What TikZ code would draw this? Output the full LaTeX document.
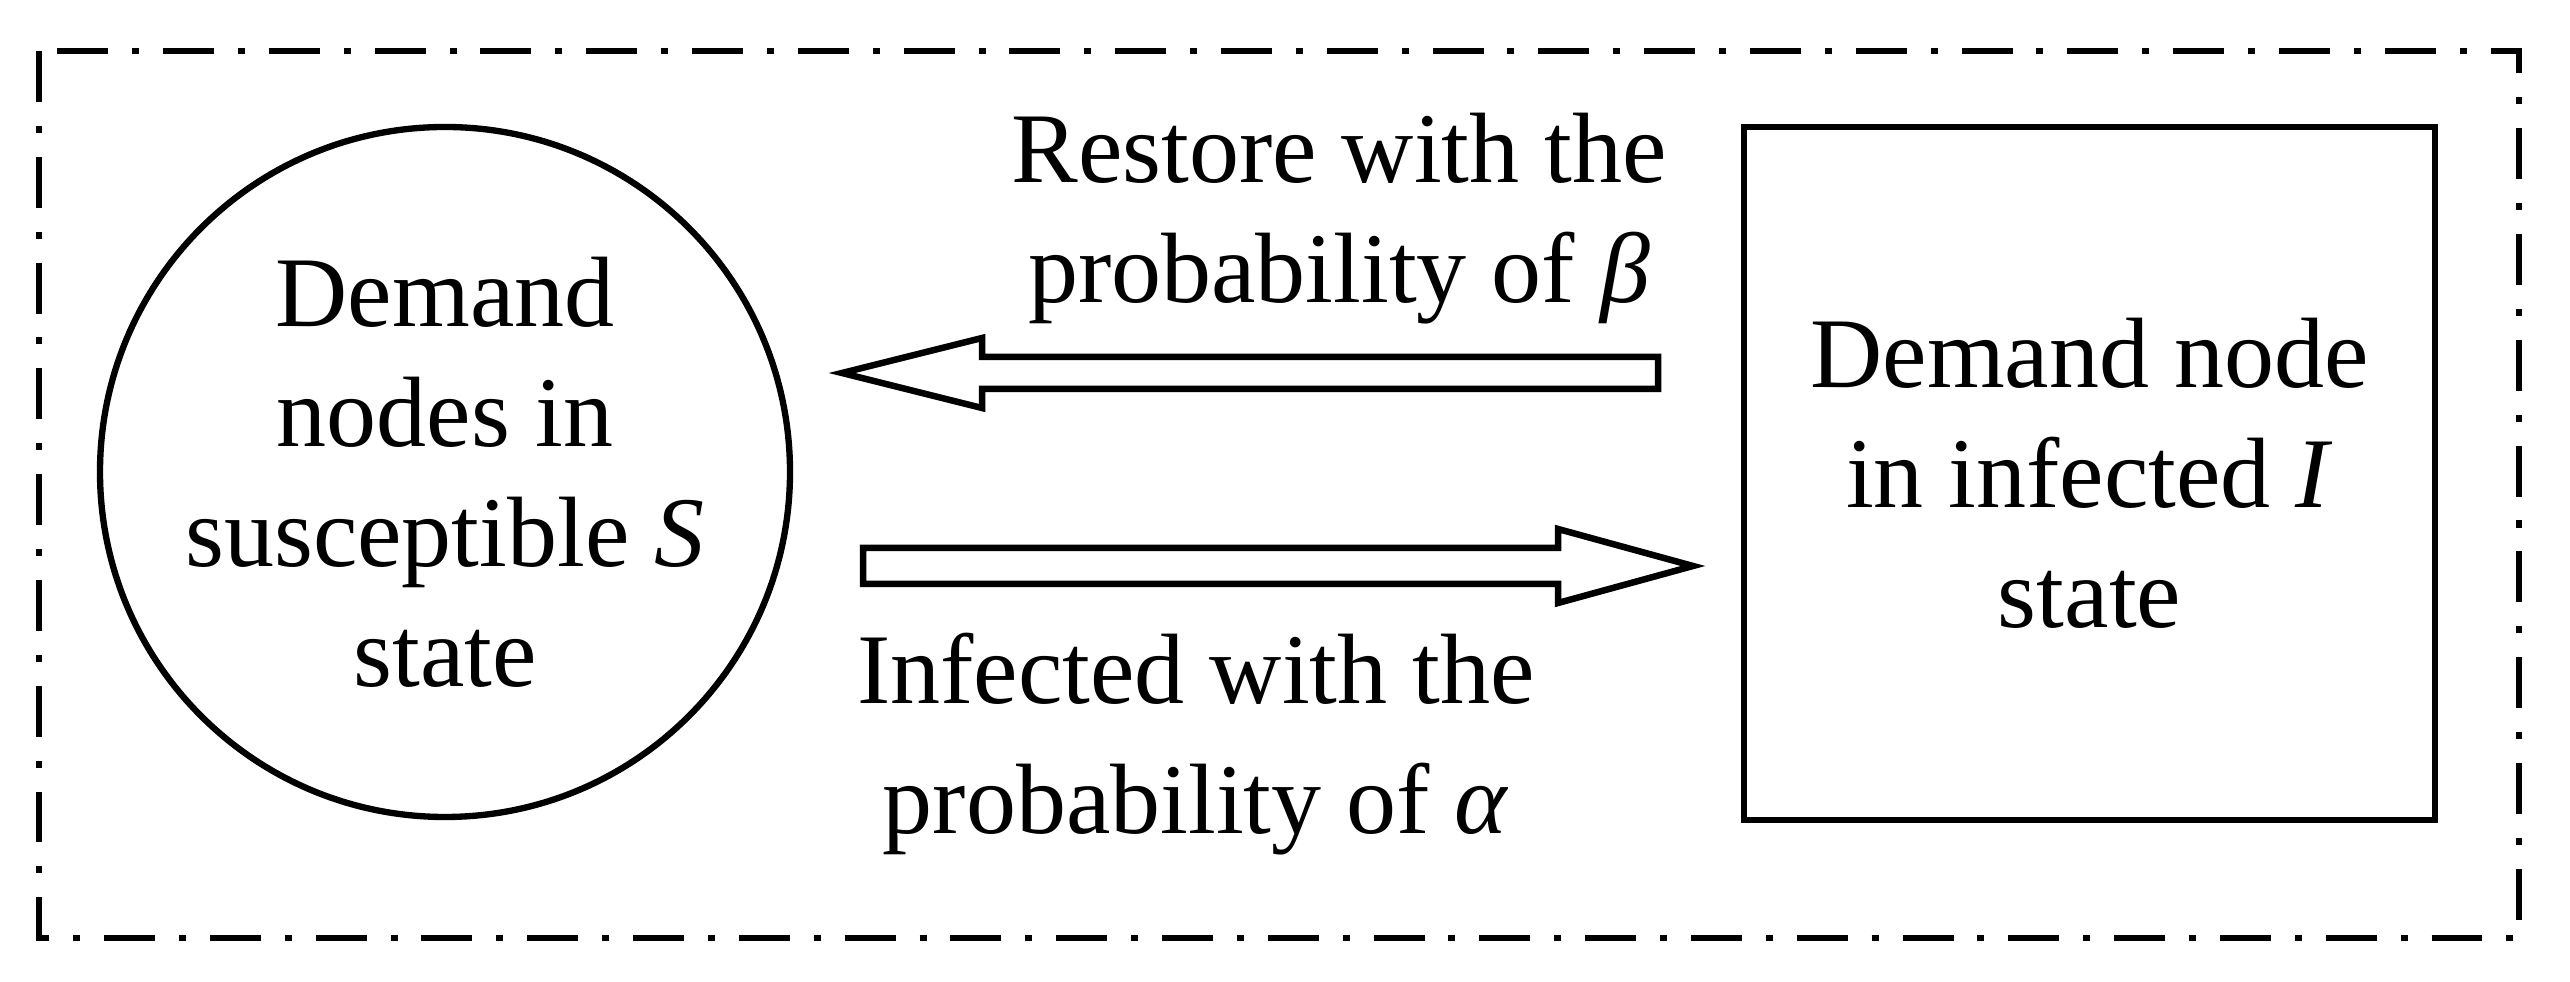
\documentclass[tikz,border=0pt]{standalone}
\usepackage{fontspec}
\setmainfont{Liberation Serif}
\usetikzlibrary{calc}

\begin{document}
\begin{tikzpicture}[scale=1,
    etat/.style={draw, line width=1.8pt, align=center, inner sep=0pt,
      font=\fontsize{28.45}{34.14}\selectfont},
    legende/.style={align=center, inner sep=0pt,
      font=\fontsize{28.45}{34.14}\selectfont},
    bloc/.style={draw, line width=1.85pt, fill=white, line join=miter},
    cadre/.style={line width=1.9pt, dash pattern=on 14.5pt off 6.8pt on 2pt off 6.8pt}]
          \useasboundingbox (0,0) rectangle (25.7,9.82);

          % Cadre en tirets-points
          \draw[cadre] (0.39,9.31) -- (0.39,0.44) -- (25.19,0.44) -- (25.19,9.31) -- cycle;

          % Etats S et I
          \node[etat, circle, minimum size=6.9cm] (S) at (4.45,5.10) {Demand\\nodes in\\susceptible \textit{S}\\state};
          \node[etat, rectangle, minimum width=6.91cm, minimum height=6.93cm] (I) at (20.895,5.085) {Demand node\\in infected \textit{I}\\state};

          % Extremites des fleches
          \coordinate (bq) at (16.58,6.09);
          \coordinate (bp) at (8.42,6.09);
          \coordinate (aq) at (8.63,4.16);
          \coordinate (ap) at (16.93,4.16);

          % Fleche I -> S (beta)
          \draw[bloc] ($(bq)+(0,0.16)$) -- ($(bp)+(1.40,0.16)$) -- ($(bp)+(1.40,0.35)$) -- (bp)
            -- ($(bp)+(1.40,-0.35)$) -- ($(bp)+(1.40,-0.16)$) -- ($(bq)+(0,-0.16)$) -- cycle;

          % Fleche S -> I (alpha)
          \draw[bloc] ($(aq)+(0,0.18)$) -- ($(ap)+(-1.35,0.18)$) -- ($(ap)+(-1.35,0.37)$) -- (ap)
            -- ($(ap)+(-1.35,-0.37)$) -- ($(ap)+(-1.35,-0.18)$) -- ($(aq)+(0,-0.18)$) -- cycle;

          % Legendes des fleches
          \node[legende] (restore) at (13.39,7.63) {Restore with the\\probability of \textit{β}};
          \node[legende, font=\fontsize{28.45}{36.99}\selectfont] (infect) at (11.96,2.38) {Infected with the\\probability of \textit{α}};
        \end{tikzpicture}
\end{document}
